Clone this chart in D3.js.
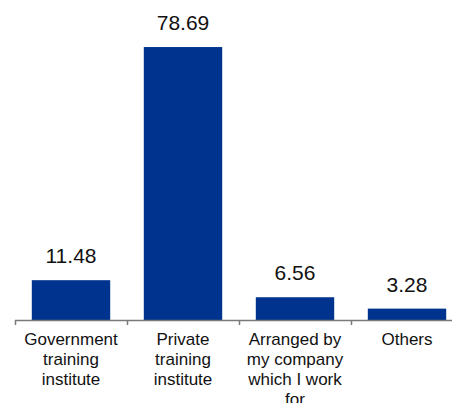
<!DOCTYPE html>
<html>
<head>
<meta charset="utf-8">
<script src="https://cdn.jsdelivr.net/npm/d3@7"></script>
<style>
  html, body { margin: 0; padding: 0; background: #fff; }
  svg { display: block; font-family: "Liberation Sans", Arial, sans-serif; }
</style>
</head>
<body>
<svg id="chart" width="452" height="403"></svg>
<script>
// Share of respondents by where their training took place (%)
const categories = [
  "Government training institute",
  "Private training institute",
  "Arranged by my company which I work for",
  "Others"
];
const values = [11.48, 78.69, 6.56, 3.28];

const svg = d3.select("#chart");
const barColor = "#00338D";
const axisColor = "#7a7a7a";
const textColor = "#111";

const x = d3.scaleBand()
  .domain(categories)
  .range([15, 463])
  .paddingInner(0.3)
  .paddingOuter(0.15);

const y = d3.scaleLinear()
  .domain([0, 80])
  .range([320, 42.5]);

// Bars
svg.selectAll("rect.bar")
  .data(values)
  .join("rect")
  .attr("class", "bar")
  .attr("x", (d, i) => x(categories[i]))
  .attr("width", x.bandwidth())
  .attr("y", d => y(d))
  .attr("height", d => y(0) - y(d))
  .attr("fill", barColor);

// Value labels
svg.selectAll("text.value")
  .data(values)
  .join("text")
  .attr("class", "value")
  .attr("x", (d, i) => x(categories[i]) + x.bandwidth() / 2)
  .attr("y", d => y(d) - 17)
  .attr("text-anchor", "middle")
  .attr("font-size", 21)
  .attr("fill", textColor)
  .text(d => d.toFixed(2));

// Category axis: baseline with ticks at band boundaries
const step = x.step();
const start = x.range()[0];
const boundaries = d3.range(categories.length + 1).map(i => start + i * step);

svg.append("line")
  .attr("x1", start).attr("x2", 452)
  .attr("y1", y(0) + 0.5).attr("y2", y(0) + 0.5)
  .attr("stroke", axisColor).attr("stroke-width", 1.5);

svg.selectAll("line.tick")
  .data(boundaries)
  .join("line")
  .attr("class", "tick")
  .attr("x1", d => d + 0.5).attr("x2", d => d + 0.5)
  .attr("y1", y(0)).attr("y2", y(0) + 5)
  .attr("stroke", axisColor).attr("stroke-width", 1.5);

// Wrapped category labels
const lineHeight = 20;
const maxWidth = 104;
const labels = svg.selectAll("text.cat")
  .data(categories)
  .join("text")
  .attr("class", "cat")
  .attr("text-anchor", "middle")
  .attr("font-size", 17)
  .attr("fill", textColor)
  .attr("x", d => x(d) + x.bandwidth() / 2)
  .attr("y", y(0) + 25);

labels.each(function(d) {
  const t = d3.select(this);
  const cx = +t.attr("x");
  const words = d.split(" ");
  let line = [];
  let tspan = t.append("tspan").attr("x", cx).attr("dy", 0);
  words.forEach(w => {
    line.push(w);
    tspan.text(line.join(" "));
    if (tspan.node().getComputedTextLength() > maxWidth && line.length > 1) {
      line.pop();
      tspan.text(line.join(" "));
      line = [w];
      tspan = t.append("tspan").attr("x", cx).attr("dy", lineHeight).text(w);
    }
  });
});
</script>
</body>
</html>
